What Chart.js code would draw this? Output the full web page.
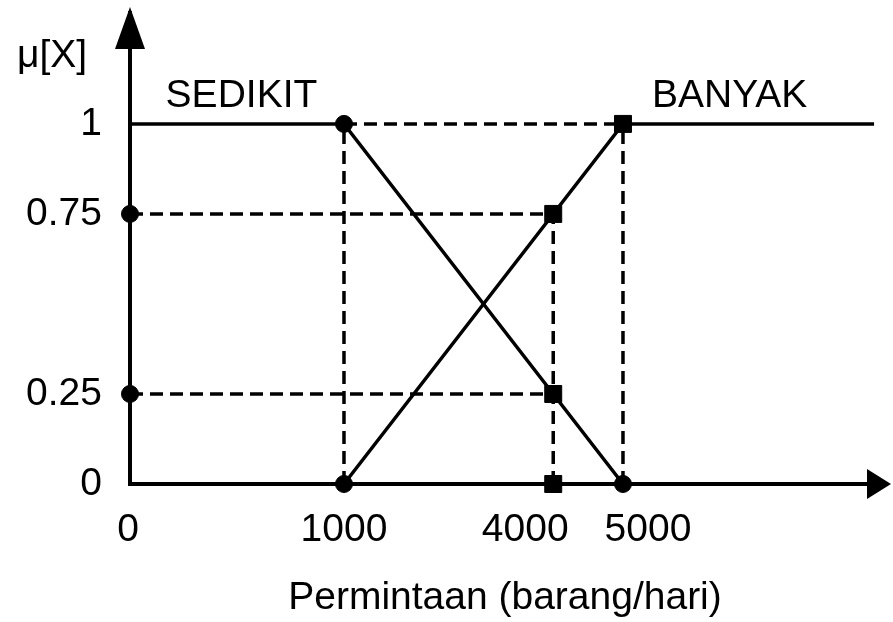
<!DOCTYPE html>
<html>
<head>
<meta charset="utf-8">
<script src="https://cdn.jsdelivr.net/npm/chart.js@4.4.1/dist/chart.umd.min.js"></script>
<style>
  html, body { margin: 0; padding: 0; background: #fff; overflow: hidden; }
  #wrap { width: 893px; height: 622px; }
  canvas { display: block; }
</style>
</head>
<body>
<div id="wrap"><canvas id="chart"></canvas></div>
<script>
// permintaan (barang/hari) and the membership values
const xValues = [0, 1000, 4000, 5000];
const xLabels = ['0', '1000', '4000', '5000'];
const sedikit = [1, 1, 0.25, 0];
const banyak = [0, 0, 0.75, 1];
const yTicks = [0, 0.25, 0.75, 1];
const yLabels = ['0', '0.25', '0.75', '1'];
const banyakEnd = 8600;   // where the BANYAK plateau stops

// the x axis is broken between 0 and 1000, so 0 is drawn here
const xOrigin = -2068;
const xMax = 8685;
const yMax = 1.308;

const FONT = "'Liberation Sans', Arial, sans-serif";
const FSIZE = 39;
const pos = v => (v === 0 ? xOrigin : v);

const sedikitLine = [
  { x: pos(xValues[0]), y: sedikit[0] },
  { x: xValues[1], y: sedikit[1] },
  { x: xValues[3], y: sedikit[3] },
];
const banyakLine = [
  { x: xValues[1], y: banyak[1] },
  { x: xValues[3], y: banyak[3] },
  { x: banyakEnd, y: banyak[3] },
];

// dashed guides
const guides = [
  [{ x: xValues[1], y: 1 }, { x: xValues[3], y: 1 }],
  [{ x: xValues[1], y: 0 }, { x: xValues[1], y: 1 }],
  [{ x: xValues[3], y: 0 }, { x: xValues[3], y: 1 }],
  [{ x: xValues[2], y: 0 }, { x: xValues[2], y: banyak[2] }],
  [{ x: pos(0), y: banyak[2] }, { x: xValues[2], y: banyak[2] }],
  [{ x: pos(0), y: sedikit[2] }, { x: xValues[2], y: sedikit[2] }],
];

const roundPts = [
  { x: xValues[1], y: 1 },
  { x: xValues[1], y: 0 },
  { x: xValues[3], y: 0 },
  { x: pos(0), y: banyak[2] },
  { x: pos(0), y: sedikit[2] },
];
const squarePts = [
  { x: xValues[2], y: banyak[2] },
  { x: xValues[2], y: sedikit[2] },
  { x: xValues[2], y: 0 },
  { x: xValues[3], y: 1 },
];

const datasets = [];
guides.forEach(g => datasets.push({
  data: g, showLine: true, borderColor: '#000', borderWidth: 3.5,
  borderDash: [13, 7], pointRadius: 0, clip: false,
}));
datasets.push({ data: sedikitLine, showLine: true, borderColor: '#000', borderWidth: 3.5, pointRadius: 0, clip: false });
datasets.push({ data: banyakLine, showLine: true, borderColor: '#000', borderWidth: 3.5, pointRadius: 0, clip: false });
datasets.push({ data: roundPts, showLine: false, pointStyle: 'circle', pointRadius: 8.5,
  backgroundColor: '#000', borderColor: '#000', clip: false });
datasets.push({ data: squarePts, showLine: false, pointStyle: 'rect', pointRadius: 12,
  backgroundColor: '#000', borderColor: '#000', clip: false });

// the point markers make Chart.js keep ~13px free round the plot area,
// so the arrow heads reach out into that margin
const extras = {
  id: 'extras',
  afterDraw(chart) {
    const { ctx, chartArea: a, scales: { x, y } } = chart;
    ctx.save();
    ctx.fillStyle = '#000';
    ctx.beginPath();
    ctx.moveTo(a.left, a.top - 6);
    ctx.lineTo(a.left - 15, a.top + 36);
    ctx.lineTo(a.left + 15, a.top + 36);
    ctx.closePath();
    ctx.fill();
    ctx.beginPath();
    ctx.moveTo(a.right + 11, a.bottom);
    ctx.lineTo(a.right - 13, a.bottom - 15);
    ctx.lineTo(a.right - 13, a.bottom + 15);
    ctx.closePath();
    ctx.fill();

    ctx.font = FSIZE + 'px ' + FONT;
    ctx.textBaseline = 'alphabetic';
    // x tick labels, pushed apart where 4000 and 5000 would collide
    const nudge = [-2, 0, -28, 25];
    ctx.textAlign = 'center';
    xValues.forEach((v, i) => {
      ctx.fillText(xLabels[i], x.getPixelForValue(pos(v)) + nudge[i], a.bottom + 57);
    });
    // set names
    ctx.fillText('SEDIKIT', x.getPixelForValue(-470), y.getPixelForValue(1.047));
    ctx.fillText('BANYAK', x.getPixelForValue(6530), y.getPixelForValue(1.047));
    ctx.textAlign = 'left';
    ctx.fillText('\u03bc[X]', a.left - 113, y.getPixelForValue(1.158));
    ctx.restore();
  }
};

new Chart(document.getElementById('chart'), {
  type: 'scatter',
  data: { datasets },
  options: {
    responsive: true,
    maintainAspectRatio: false,
    animation: false,
    layout: { padding: { top: 7, right: 3, left: 0, bottom: 0 } },
    plugins: { legend: { display: false }, tooltip: { enabled: false } },
    scales: {
      x: {
        type: 'linear', min: xOrigin, max: xMax,
        grid: { display: false, drawTicks: false },
        border: { display: true, color: '#000', width: 4 },
        ticks: { display: false },
        afterFit: s => { s.height = 138; s.paddingLeft = 0; s.paddingRight = 0; },
        title: {
          display: true, text: 'Permintaan (barang/hari)', color: '#000',
          font: { family: FONT, size: FSIZE }, padding: { top: 4, bottom: 0 },
        },
      },
      y: {
        type: 'linear', min: 0, max: yMax,
        grid: { display: false, drawTicks: false },
        border: { display: true, color: '#000', width: 4 },
        afterBuildTicks: s => { s.ticks = yTicks.map(v => ({ value: v })); },
        afterFit: s => { s.width = 130; s.paddingTop = 0; s.paddingBottom = 0; },
        ticks: {
          color: '#000', padding: 28, font: { family: FONT, size: FSIZE },
          callback: v => yLabels[yTicks.indexOf(v)],
        },
      },
    },
  },
  plugins: [extras],
});
</script>
</body>
</html>
